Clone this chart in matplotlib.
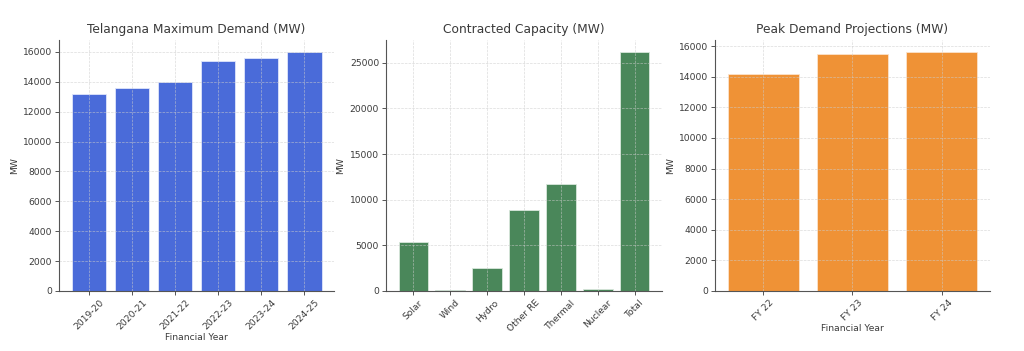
import matplotlib
matplotlib.use("Agg")
import matplotlib.pyplot as plt

years = ["2019-20", "2020-21", "2021-22", "2022-23", "2023-24", "2024-25"]
max_demand = [13168, 13610, 14020, 15400, 15623, 16000]

sources = ["Solar", "Wind", "Hydro", "Other RE", "Thermal", "Nuclear", "Total"]
capacity = [5400, 120, 2500, 8900, 11720, 190, 26210]

fy = ["FY 22", "FY 23", "FY 24"]
projections = [14160, 15480, 15590]

TEXT = "#3a3a3a"
plt.rcParams.update({
    "font.family": "DejaVu Sans",
    "text.color": TEXT,
    "axes.labelcolor": TEXT,
    "xtick.color": TEXT,
    "ytick.color": TEXT,
    "axes.edgecolor": "#555555",
})

fig = plt.figure(figsize=(10.24, 3.51), dpi=100)
boxes = [(59, 334), (386, 662), (715, 990)]
W, H = 1024, 351
top, bottom = 40, 291
axes = [fig.add_axes([l / W, 1 - bottom / H, (r - l) / W, (bottom - top) / H]) for l, r in boxes]


def style(ax, title, xlabel=None):
    ax.set_title(title, fontsize=8.8, color=TEXT, pad=5)
    ax.set_ylabel("MW", fontsize=6.6, labelpad=3)
    if xlabel:
        ax.set_xlabel(xlabel, fontsize=6.6, labelpad=1)
    ax.tick_params(axis="both", labelsize=6.6, length=3, width=0.6, pad=2)
    ax.tick_params(axis="x", rotation=45)
    for s in ("top", "right"):
        ax.spines[s].set_visible(False)
    for s in ("left", "bottom"):
        ax.spines[s].set_linewidth(0.8)
    ax.grid(True, linestyle="--", linewidth=0.5, color="#cccccc", alpha=0.7, zorder=3)
    ax.set_axisbelow(False)


ax = axes[0]
ax.bar(years, max_demand, color="#4a6bd9", edgecolor="#dfe6fb", linewidth=0.6, zorder=2)
style(ax, "Telangana Maximum Demand (MW)", "Financial Year")
ax.set_ylim(0, 16800)
ax.set_yticks(range(0, 16001, 2000))

ax = axes[1]
ax.bar(sources, capacity, color="#4a875a", edgecolor="#d9e8dd", linewidth=0.6, zorder=2)
style(ax, "Contracted Capacity (MW)")
ax.set_ylim(0, 27500)

ax = axes[2]
ax.bar(fy, projections, color="#ef9236", edgecolor="#fbe3cc", linewidth=0.6, zorder=2)
style(ax, "Peak Demand Projections (MW)", "Financial Year")
ax.set_ylim(0, 16400)
ax.set_yticks(range(0, 16001, 2000))

fig.savefig("out.png", dpi=100)
